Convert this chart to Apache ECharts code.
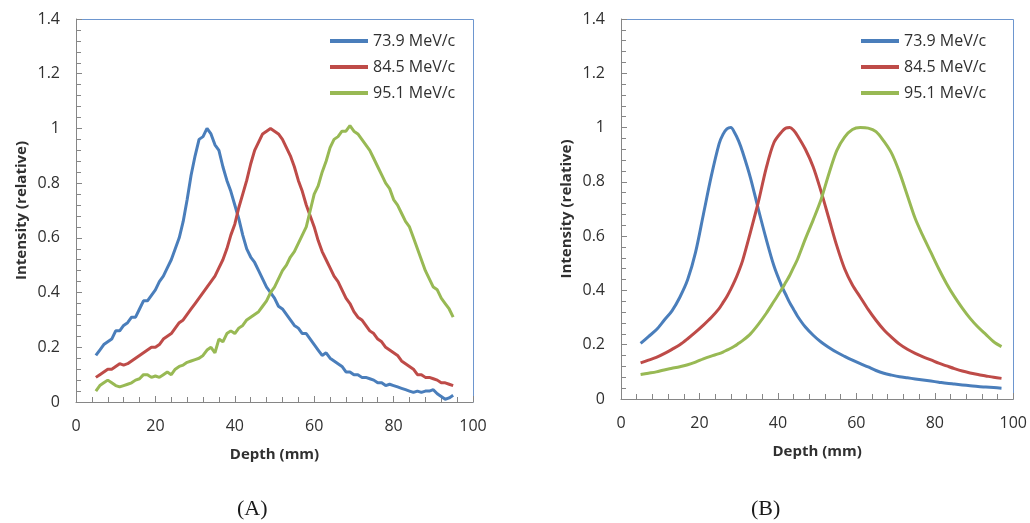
<!DOCTYPE html>
<html>
<head>
<meta charset="utf-8">
<script src="https://cdn.jsdelivr.net/npm/echarts@6/dist/echarts.min.js"></script>
<style>
html,body{margin:0;padding:0;background:#fff;}
#c{width:1030px;height:523px;}
</style>
</head>
<body>
<div id="c"></div>
<script>
// ---- Data ----
const seriesNames = ['73.9 MeV/c', '84.5 MeV/c', '95.1 MeV/c'];
const xTicks = [0, 20, 40, 60, 80, 100];
const yTicks = [0, 0.2, 0.4, 0.6, 0.8, 1, 1.2, 1.4];

// (A) measured, depth 5..95 mm step 1
const depthA = [5,6,7,8,9,10,11,12,13,14,15,16,17,18,19,20,21,22,23,24,25,26,27,28,29,30,31,32,33,34,35,36,37,38,39,40,41,42,43,44,45,46,47,48,49,50,51,52,53,54,55,56,57,58,59,60,61,62,63,64,65,66,67,68,69,70,71,72,73,74,75,76,77,78,79,80,81,82,83,84,85,86,87,88,89,90,91,92,93,94,95];
const blueA = [0.17,0.19,0.21,0.22,0.23,0.26,0.26,0.28,0.29,0.31,0.31,0.34,0.37,0.37,0.39,0.41,0.44,0.46,0.49,0.52,0.56,0.60,0.66,0.74,0.83,0.90,0.96,0.97,1.0,0.98,0.94,0.92,0.86,0.81,0.77,0.72,0.67,0.61,0.56,0.53,0.51,0.48,0.45,0.42,0.40,0.38,0.35,0.34,0.32,0.30,0.28,0.27,0.25,0.25,0.23,0.21,0.19,0.17,0.18,0.16,0.15,0.14,0.13,0.11,0.11,0.10,0.10,0.09,0.09,0.085,0.08,0.07,0.07,0.06,0.065,0.06,0.055,0.05,0.045,0.04,0.035,0.04,0.035,0.04,0.04,0.045,0.03,0.02,0.01,0.015,0.025];
const redA = [0.09,0.10,0.11,0.12,0.12,0.13,0.14,0.135,0.14,0.15,0.16,0.17,0.18,0.19,0.20,0.20,0.21,0.23,0.24,0.25,0.27,0.29,0.30,0.32,0.34,0.36,0.38,0.40,0.42,0.44,0.46,0.49,0.52,0.56,0.61,0.65,0.71,0.76,0.81,0.87,0.92,0.95,0.98,0.99,1.0,0.99,0.98,0.96,0.93,0.90,0.86,0.81,0.77,0.72,0.68,0.64,0.59,0.55,0.52,0.49,0.46,0.44,0.41,0.38,0.36,0.33,0.31,0.30,0.28,0.26,0.25,0.23,0.22,0.20,0.19,0.18,0.17,0.15,0.14,0.13,0.12,0.10,0.10,0.09,0.09,0.085,0.08,0.07,0.07,0.065,0.06];
const greenA = [0.04,0.06,0.07,0.08,0.07,0.06,0.055,0.06,0.065,0.07,0.08,0.085,0.10,0.10,0.09,0.095,0.09,0.10,0.11,0.10,0.12,0.13,0.135,0.145,0.15,0.155,0.16,0.17,0.19,0.20,0.18,0.23,0.22,0.25,0.26,0.25,0.27,0.28,0.30,0.31,0.32,0.33,0.35,0.37,0.40,0.42,0.45,0.48,0.50,0.53,0.55,0.58,0.61,0.64,0.70,0.76,0.79,0.84,0.88,0.93,0.96,0.97,0.99,0.99,1.01,0.99,0.98,0.96,0.94,0.92,0.89,0.86,0.83,0.80,0.78,0.74,0.72,0.69,0.66,0.64,0.60,0.56,0.52,0.48,0.45,0.42,0.41,0.38,0.36,0.34,0.31];

// (B) simulated
const depthB = [5,7,9,11,13,15,17,19,21,23,25,26,27,28,29,30,31,33,35,37,39,41,42,43,44,45,47,49,51,53,55,57,59,61,63,65,67,69,71,73,75,77,79,81,83,85,87,89,91,93,95,97];
const blueB = [0.205,0.23,0.255,0.29,0.325,0.375,0.44,0.54,0.68,0.82,0.94,0.975,0.995,1.0,0.98,0.95,0.91,0.815,0.70,0.59,0.49,0.415,0.385,0.355,0.33,0.305,0.265,0.235,0.21,0.19,0.172,0.157,0.143,0.13,0.118,0.105,0.095,0.088,0.082,0.078,0.074,0.07,0.066,0.062,0.058,0.055,0.052,0.049,0.046,0.044,0.042,0.04];
const redB = [0.133,0.143,0.153,0.167,0.183,0.2,0.222,0.246,0.272,0.3,0.333,0.355,0.378,0.405,0.435,0.47,0.51,0.615,0.725,0.85,0.945,0.985,0.998,1.0,0.99,0.97,0.92,0.855,0.765,0.665,0.565,0.48,0.42,0.375,0.33,0.29,0.255,0.227,0.202,0.183,0.168,0.155,0.144,0.132,0.122,0.112,0.103,0.096,0.09,0.085,0.08,0.076];
const greenB = [0.09,0.095,0.1,0.107,0.113,0.119,0.126,0.136,0.148,0.158,0.167,0.173,0.18,0.187,0.195,0.205,0.215,0.24,0.275,0.315,0.36,0.405,0.43,0.455,0.485,0.515,0.59,0.66,0.735,0.83,0.915,0.965,0.993,1.0,0.998,0.985,0.95,0.905,0.835,0.75,0.665,0.6,0.54,0.48,0.425,0.377,0.335,0.297,0.265,0.238,0.211,0.193];

const colors = ['#4a7ebb', '#be4b48', '#98b954'];
const FONT = 'Open Sans';
const TXT = '#303030';
const FRAME = '#6d96cf';

function pairs(xs, ys) { return xs.map((x, i) => [x, ys[i]]); }

function xAxis(gi) {
  return {
    type: 'value', gridIndex: gi, min: xTicks[0], max: xTicks[xTicks.length - 1], interval: xTicks[1] - xTicks[0],
    name: 'Depth (mm)', nameLocation: 'middle', nameGap: 45,
    nameTextStyle: { fontFamily: FONT, fontWeight: 'bold', fontSize: 15, color: TXT },
    axisLine: { show: true, lineStyle: { color: '#868686', width: 1 } },
    axisTick: { show: true, inside: true, length: 6, lineStyle: { color: '#868686' } },
    minorTick: { show: true, splitNumber: 5, length: 5, lineStyle: { color: '#868686' } },
    axisLabel: { fontFamily: FONT, fontSize: 16, color: TXT, margin: 16 },
    splitLine: { show: false }, z: 3
  };
}
function yAxis(gi) {
  return {
    type: 'value', gridIndex: gi, min: yTicks[0], max: yTicks[yTicks.length - 1], interval: 0.2,
    name: 'Intensity (relative)', nameLocation: 'middle', nameGap: 47,
    nameTextStyle: { fontFamily: FONT, fontWeight: 'bold', fontSize: 15, color: TXT },
    axisLine: { show: true, lineStyle: { color: '#868686', width: 1 } },
    axisTick: { show: true, inside: true, length: 6, lineStyle: { color: '#868686' } },
    minorTick: { show: true, splitNumber: 5, length: 5, lineStyle: { color: '#868686' } },
    axisLabel: { fontFamily: FONT, fontSize: 16, color: TXT, margin: 16 },
    splitLine: { show: false }, z: 3
  };
}
function line(name, gi, data, color) {
  return {
    name: name, type: 'line', xAxisIndex: gi, yAxisIndex: gi, data: data,
    showSymbol: false, symbol: 'none', smooth: gi === 1 ? 0.3 : false,
    lineStyle: { color: color, width: 3 }, itemStyle: { color: color },
    animation: false
  };
}
function legend(left) {
  return {
    orient: 'vertical', left: left, top: 33, padding: 0, itemWidth: 38, itemHeight: 4, itemGap: 10,
    icon: 'rect', data: seriesNames, selectedMode: false,
    textStyle: { fontFamily: FONT, fontSize: 16, color: TXT }
  };
}

const chart = echarts.init(document.getElementById('c'), null, { renderer: 'canvas' });
chart.setOption({
  backgroundColor: '#ffffff',
  animation: false,
  grid: [
    { left: 76, top: 19, right: 557, bottom: 121 },
    { left: 621, top: 19, right: 16, bottom: 124 }
  ],
  legend: [ legend(330), legend(861) ],
  xAxis: [xAxis(0), xAxis(1)],
  yAxis: [yAxis(0), yAxis(1)],
  series: [
    line(seriesNames[0], 0, pairs(depthA, blueA), colors[0]),
    line(seriesNames[1], 0, pairs(depthA, redA), colors[1]),
    line(seriesNames[2], 0, pairs(depthA, greenA), colors[2]),
    line(seriesNames[0], 1, pairs(depthB, blueB), colors[0]),
    line(seriesNames[1], 1, pairs(depthB, redB), colors[1]),
    line(seriesNames[2], 1, pairs(depthB, greenB), colors[2])
  ]
});

// plot-area frame (top and right edges), positioned via the library's own scales
function frameFor(gi) {
  const tl = chart.convertToPixel({ gridIndex: gi }, [xTicks[0], yTicks[yTicks.length - 1]]);
  const br = chart.convertToPixel({ gridIndex: gi }, [xTicks[xTicks.length - 1], yTicks[0]]);
  const x0 = Math.round(tl[0]) + 0.5, y0 = Math.round(tl[1]) + 0.5;
  const x1 = Math.round(br[0]) + 0.5, y1 = Math.round(br[1]) + 0.5;
  return {
    type: 'polyline', silent: true, z: 1,
    shape: { points: [[x0, y0], [x1, y0], [x1, y1]] },
    style: { stroke: FRAME, lineWidth: 1, fill: null }
  };
}
chart.setOption({
  graphic: [
    frameFor(0), frameFor(1),
    { type: 'text', left: 237, top: 498, style: { text: '(A)', fontFamily: 'Liberation Serif', fontSize: 22, fill: '#1a1a1a' } },
    { type: 'text', left: 751, top: 498, style: { text: '(B)', fontFamily: 'Liberation Serif', fontSize: 22, fill: '#1a1a1a' } }
  ]
});
</script>
</body>
</html>
